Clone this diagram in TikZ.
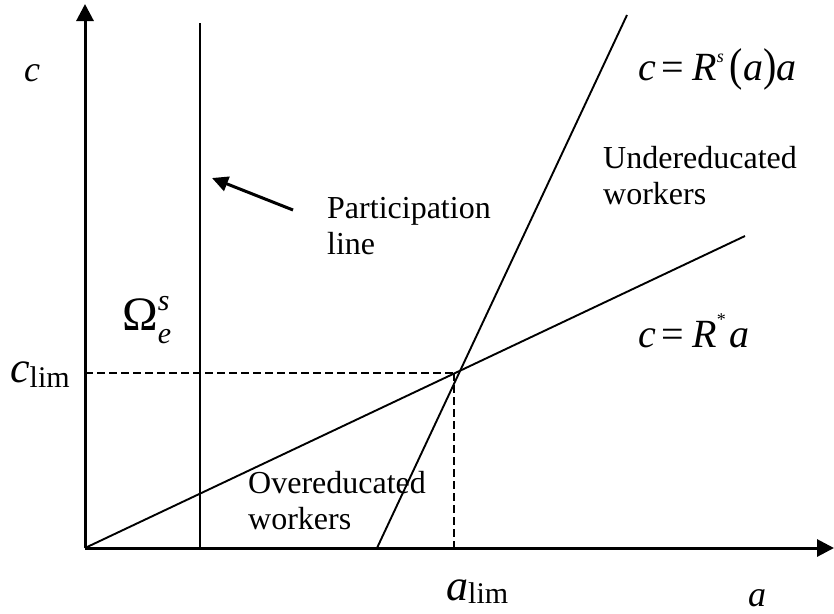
\documentclass[tikz,border=0pt]{standalone}
\usepackage{fontspec}
\setmainfont{Liberation Serif}
\usetikzlibrary{arrows.meta}
\begin{document}
\begin{tikzpicture}[x=1pt, y=-1pt, >={Triangle[length=17pt,width=17pt]},
  axis/.style={line width=3pt},
  curve/.style={line width=1.9pt},
  guide/.style={line width=2.8pt, dash pattern=on 8pt off 4pt},
  txt/.style={inner sep=0pt, align=left, font=\fontsize{32}{36}\selectfont},
  eqn/.style={inner sep=0pt, font=\fontsize{40}{44}\selectfont}]
\useasboundingbox (0,0) rectangle (834,613);

\coordinate (o) at (85,548);
\coordinate (ytop) at (85,4);
\coordinate (xend) at (834,548);
\coordinate (ptop) at (200,23);
\coordinate (pbot) at (200,548);
\coordinate (sbot) at (377,548);
\coordinate (stop) at (627,15);
\coordinate (rend) at (745,236);
\coordinate (cl) at (85,373);
\coordinate (lim) at (454,373);
\coordinate (al) at (454,548);
\coordinate (tail) at (293,210);
\coordinate (tip) at (212,178);

\draw[axis, ->] (o) -- (ytop);
\draw[axis, ->] (o) -- (xend);
\draw[curve] (ptop) -- (pbot);
\draw[curve] (sbot) -- (stop);
\draw[curve] (o) -- (rend);
\draw[guide] (cl) -- (lim);
\draw[guide] (lim) -- (al);
\draw[line width=3pt, -{Triangle[length=16pt,width=15pt]}] (tail) -- (tip);

\node[inner sep=0pt, font=\fontsize{36}{40}\selectfont\itshape] (clab) at (32,73) {c};
\node[inner sep=0pt, font=\fontsize{36}{40}\selectfont\itshape] (alab) at (757,598) {a};
\node[inner sep=0pt, anchor=base west] (climlab) at (10,382)
  {\fontsize{44}{48}\selectfont\itshape c\upshape\fontsize{30}{34}\selectfont\raisebox{-5pt}{lim}};
\node[inner sep=0pt, anchor=base west] (alimlab) at (446,600)
  {\fontsize{44}{48}\selectfont\itshape a\upshape\fontsize{30}{34}\selectfont\raisebox{-3pt}{lim}};
\node[inner sep=0pt, anchor=base west] (omega) at (122,330)
  {\fontsize{48}{52}\selectfont Ω\fontsize{30}{34}\selectfont\itshape\rlap{\raisebox{20pt}{s}}\raisebox{-13pt}{e}};

\node[txt, anchor=north west] (part) at (327,197) {Participation\\line};
\node[txt, anchor=north west] (under) at (603,146) {Undereducated\\workers};
\node[txt, anchor=north west] (over) at (248,471) {Overeducated\\workers};

\node[eqn, anchor=base west] (eqs) at (638,80)
  {\itshape c\hspace{6pt}\upshape=\hspace{8pt}\itshape R\raisebox{18pt}{\fontsize{18}{20}\selectfont s}\hspace{6pt}\upshape\scalebox{1}[1.15]{(}\itshape a\upshape\scalebox{1}[1.15]{)}\itshape a};
\node[eqn, anchor=base west] (eqr) at (638,347)
  {\itshape c\hspace{6pt}\upshape=\hspace{8pt}\itshape R\raisebox{22pt}{\fontsize{18}{20}\selectfont\upshape *}\hspace{4pt}a};
\end{tikzpicture}
\end{document}
